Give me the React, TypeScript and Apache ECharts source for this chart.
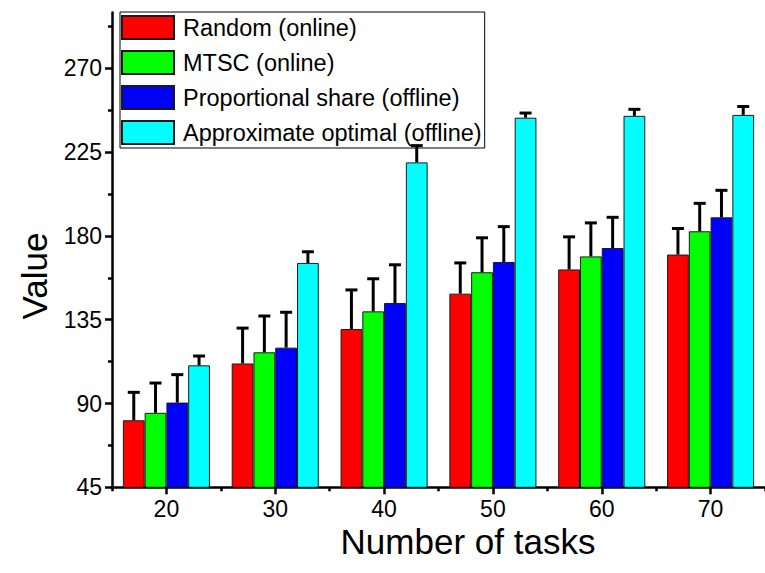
import React, { useEffect, useRef } from "react";
import * as echarts from "echarts";

const categories = ["20", "30", "40", "50", "60", "70"];
const seriesNames = [
  "Random (online)",
  "MTSC (online)",
  "Proportional share (offline)",
  "Approximate optimal (offline)",
];
const randomVals = [81, 111.5, 130, 149, 162, 170];
const randomErr = [15, 19, 21, 16.5, 17.5, 14];
const mtscVals = [85, 117.5, 139.5, 160.5, 169, 182.5];
const mtscErr = [16, 19.5, 17.5, 18.5, 18, 15];
const propVals = [90.5, 120, 144, 166, 173.5, 190];
const propErr = [15, 19, 20.5, 19, 16.5, 14.5];
const optVals = [110.5, 165.5, 219.5, 243.5, 244.5, 245];
const optErr = [5, 6, 9, 2.5, 3.5, 4.5];
const yMajorTicks = [45, 90, 135, 180, 225, 270];
const yMinorTicks = [67.5, 112.5, 157.5, 202.5, 247.5, 292.5];

const colors = ["#ff0000", "#00ff00", "#0000ff", "#00ffff"];
const FONT = "'Liberation Sans', Arial, sans-serif";

export default function App() {
  const ref = useRef<HTMLDivElement>(null);
  useEffect(() => {
    document.body.style.margin = "0";
    if (!ref.current) return;
    const chart = echarts.init(ref.current, undefined, { renderer: "svg" });
    const vals = [randomVals, mtscVals, propVals, optVals];
    const errs = [randomErr, mtscErr, propErr, optErr];
    const errData: number[][] = [];
    vals.forEach((arr, s) =>
      arr.forEach((v, c) => errData.push([c, s, v, errs[s][c]]))
    );
    const barFrac = 0.2;
    chart.setOption({
      animation: false,
      backgroundColor: "#ffffff",
      textStyle: { fontFamily: FONT },
      grid: { left: 112, right: -1, top: 12.5, bottom: 85.7, containLabel: false },
      legend: {
        data: seriesNames,
        orient: "vertical",
        left: 120,
        top: 12,
        itemWidth: 52,
        itemHeight: 23,
        itemGap: 10,
        icon: "rect",
        borderColor: "#000",
        borderWidth: 1,
        padding: [3, 3, 3, 1],
        backgroundColor: "#fff",
        textStyle: { fontSize: 23.5, color: "#000", fontFamily: FONT, padding: [0, 0, 0, 4] },
      },
      xAxis: [
        {
          type: "category",
          data: categories,
          position: "bottom",
          axisLine: { show: true, lineStyle: { color: "#000", width: 2.5 } },
          axisTick: { show: true, alignWithLabel: true, length: 7, lineStyle: { color: "#000", width: 2.5 } },
          axisLabel: { fontSize: 23, color: "#000", margin: 10, fontFamily: FONT },
          splitLine: { show: false },
        },
        {
          type: "category",
          data: categories,
          position: "bottom",
          axisLine: { show: false },
          axisTick: { show: true, alignWithLabel: false, length: 4, lineStyle: { color: "#000", width: 2.5 } },
          axisLabel: { show: false },
          splitLine: { show: false },
        },
      ],
      yAxis: [
        {
          type: "value",
          min: 45,
          max: 300,
          position: "left",
          axisLine: { show: true, lineStyle: { color: "#000", width: 2.5 } },
          axisTick: { show: true, length: 7, customValues: yMajorTicks, lineStyle: { color: "#000", width: 2.5 } },
          axisLabel: { fontSize: 23, color: "#000", margin: 10, customValues: yMajorTicks, fontFamily: FONT },
          splitLine: { show: false },
        },
        {
          type: "value",
          min: 45,
          max: 300,
          position: "left",
          axisLine: { show: false },
          axisTick: { show: true, length: 4, customValues: yMinorTicks, lineStyle: { color: "#000", width: 2.5 } },
          axisLabel: { show: false },
          splitLine: { show: false },
        },
      ],
      graphic: [
        {
          type: "text",
          x: 34,
          y: 276,
          rotation: Math.PI / 2,
          style: {
            text: "Value",
            fontSize: 35,
            fontFamily: FONT,
            fill: "#000",
            align: "center",
            verticalAlign: "middle",
          },
        },
        {
          type: "text",
          x: 468,
          y: 541,
          style: {
            text: "Number of tasks",
            fontSize: 35,
            fontFamily: FONT,
            fill: "#000",
            align: "center",
            verticalAlign: "middle",
          },
        },
      ],
      series: [
        ...vals.map((arr, i) => ({
          name: seriesNames[i],
          type: "bar",
          xAxisIndex: 0,
          yAxisIndex: 0,
          data: arr,
          barWidth: barFrac * 100 + "%",
          barGap: "0%",
          itemStyle: { color: colors[i], borderColor: "#1a1a1a", borderWidth: 1 },
        })),
        {
          type: "custom",
          xAxisIndex: 0,
          yAxisIndex: 0,
          z: 5,
          data: errData,
          encode: { x: 0, y: 2 },
          renderItem: (params: any, api: any) => {
            const c = api.value(0);
            const s = api.value(1);
            const v = api.value(2);
            const e = api.value(3);
            const band = api.size([1, 0])[0];
            const barW = band * barFrac;
            const cx = api.coord([c, v])[0] + (s - 1.5) * barW;
            const yb = api.coord([c, v])[1];
            const yt = api.coord([c, v + e])[1];
            const style = { stroke: "#000", lineWidth: 3 };
            return {
              type: "group",
              children: [
                { type: "line", shape: { x1: cx, y1: yb, x2: cx, y2: yt }, style },
                { type: "line", shape: { x1: cx - 6, y1: yt, x2: cx + 6, y2: yt }, style },
              ],
            };
          },
        },
      ],
    });
    return () => chart.dispose();
  }, []);
  return <div ref={ref} style={{ width: 765, height: 573 }} />;
}
